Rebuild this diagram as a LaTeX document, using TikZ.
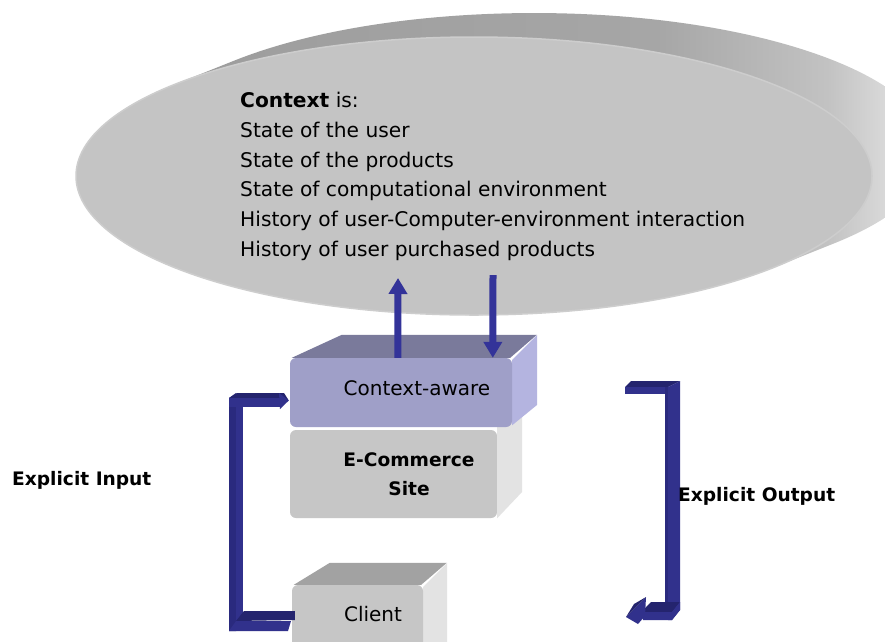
\documentclass[tikz,border=0pt]{standalone}
\usepackage{fontspec}
\setmainfont{DejaVu Sans}
\usetikzlibrary{arrows.meta,calc,shapes.geometric}

% palette
\definecolor{cloudfront}{HTML}{C4C4C4}
\definecolor{cloudrim}{HTML}{CDCDCD}
\definecolor{cloudsideA}{HTML}{9A9A9A}
\definecolor{cloudsideB}{HTML}{A6A6A6}
\definecolor{cloudsideC}{HTML}{C2C2C2}
\definecolor{cloudsideD}{HTML}{EEEEEE}
\definecolor{ctxfront}{HTML}{9F9FC8}
\definecolor{ctxtop}{HTML}{7A7A9B}
\definecolor{ctxside}{HTML}{B4B4E0}
\definecolor{grayfront}{HTML}{C6C6C6}
\definecolor{graytop}{HTML}{A2A2A2}
\definecolor{grayside}{HTML}{E3E3E3}
\definecolor{flowblue}{HTML}{333399}
\definecolor{barmain}{HTML}{31318C}
\definecolor{bardark}{HTML}{24246E}
\definecolor{barside}{HTML}{2A2A7E}

% the path's bounding box spans 25bp..75bp of this shading
\pgfdeclarehorizontalshading{cloudside}{100bp}{color(0bp)=(cloudsideA); color(25bp)=(cloudsideA); color(58bp)=(cloudsideB); color(67bp)=(cloudsideC); color(73bp)=(cloudsideD); color(100bp)=(cloudsideD)}

\tikzset{
  boxface/.style={rectangle, rounded corners=6pt, inner sep=0pt},
  boxlabel/.style={font=\fontsize{20}{24}\selectfont, inner sep=0pt},
  boldlabel/.style={font=\fontsize{18.6}{29}\selectfont\bfseries, inner sep=0pt, align=center},
  flow/.style={draw=flowblue, line width=7pt, -{Triangle[width=18pt,length=16pt]}},
}

\begin{document}
\begin{tikzpicture}[x=1pt,y=1pt]
\useasboundingbox (0,0) rectangle (885,-641);
\fill[white] (0,0) rectangle (885,-641);

% --- extruded context disc -------------------------------------------
\shade[shading=cloudside] (834,-243.4)
  arc[start angle=-41.1, end angle=138.9, x radius=398pt, y radius=139pt]
  -- ++(-60,-24)
  arc[start angle=138.9, end angle=318.9, x radius=398pt, y radius=139pt]
  -- cycle;
\node[ellipse, minimum width=796pt, minimum height=278pt, inner sep=0pt,
      fill=cloudfront, draw=cloudrim, line width=1.5pt] (cloud) at (474,-176) {};

\node[anchor=north west, align=left, inner sep=0pt,
      font=\fontsize{20.2}{29.8}\selectfont] (ctxlist) at (240,-92)
  {\textbf{Context} is:\\
   State of the user\\
   State of the products\\
   State of computational environment\\
   History of user-Computer-environment interaction\\
   History of user purchased products};

% --- E-Commerce block ------------------------------------------------
\node[boxface, fill=grayfront, minimum width=207pt, minimum height=88pt] (eco) at (393.5,-474) {};
\fill[grayside] (eco.north east) ++(0,4) -- ++(25,23) -- ++(0,-89) -- (eco.south east) -- cycle;
\node[boldlabel] (ecolabel) at (409,-474) {E-Commerce\\Site};

% --- Context-aware block ---------------------------------------------
\node[boxface, minimum width=222pt, minimum height=69pt] (ctx) at (401,-392.5) {};
\fill[ctxtop] (ctx.north west) ++(2,0) -- ++(50,23) -- ++(195,0) -- ($(ctx.north east)+(-2,0)$) -- cycle;
\fill[ctxside] ($(ctx.north east)+(0,-2)$) -- ++(25,25) -- ++(0,-70) -- ($(ctx.south east)+(0,2)$) -- cycle;
\node[boxface, fill=ctxfront, minimum width=222pt, minimum height=69pt] at (ctx.center) {};
\node[boxlabel] (ctxlabel) at (417,-388) {Context-aware};

% --- Client block ----------------------------------------------------
\node[boxface, minimum width=131pt, minimum height=72pt] (client) at (357.5,-621) {};
\fill[graytop] (client.north west) ++(2,0) -- ++(36,22) -- ++(117,0) -- ($(client.north east)+(-2,0)$) -- cycle;
\fill[grayside] ($(client.north east)+(0,-2)$) -- ++(24,24) -- ++(0,-100) -- ++(-24,0) -- cycle;
\node[boxface, fill=grayfront, minimum width=131pt, minimum height=72pt] at (client.center) {};
\node[boxlabel] (clientlabel) at (373,-614) {Client};

% --- flows between the block and the disc ----------------------------
\coordinate (upTip) at (398,-278);
\coordinate (downTail) at (493,-275);
\draw[flow] ($(ctx.north west)+(108,0)$) -- (upTip);
\draw[flow] (downTail) -- ($(ctx.north west)+(203,0)$);

% --- explicit input bracket (client -> context-aware) ----------------
\coordinate (inEnd) at ($(ctx.west)+(-1,-8)$);
\coordinate (inStart) at ($(client.west)+(3,1)$);
% side strip and vertical bar
\fill[barside] (229,-398) -- (236,-393) -- (236,-631) -- (229,-631) -- cycle;
\fill[barmain] (236,-400) rectangle (243,-631);
% top arm
\fill[bardark] (229,-398) -- (237,-393) -- (284,-393) -- (inEnd) -- (281,-400) -- cycle;
\fill[barmain] (229,-398) -- (281,-398) -- (281,-407) -- (229,-407) -- cycle;
\fill[barmain] (279,-393) -- (inEnd) -- (280,-409) -- cycle;
% bottom arm
\fill[bardark] (236,-621) -- (244,-611) -- (295,-611) -- (inStart) -- cycle;
\fill[barmain] (236,-621) -- (291,-621) -- (288,-631) -- (229,-631) -- cycle;

% --- explicit output bracket (context-aware -> client) ---------------
\coordinate (outStart) at (625,-387);
\coordinate (outTip) at (626,-617);
% top arm
\fill[bardark] (outStart) -- (631,-381) -- (680,-381) -- (668,-387) -- cycle;
\fill[barmain] (outStart) -- (668,-387) -- (668,-394) -- (625,-394) -- cycle;
% vertical bar
\fill[barside] (665,-387) rectangle (668,-620);
\fill[barmain] (668,-387) -- (680,-381) -- (680,-610) -- (672,-620) -- (668,-620) -- cycle;
% bottom arm with head
\fill[bardark] (641,-612) -- (651,-602) -- (680,-602) -- (672,-612) -- cycle;
\fill[barmain] (641,-612) -- (672,-612) -- (680,-602) -- (680,-610) -- (672,-620) -- (643,-620) -- cycle;
\fill[barmain] (646,-597) -- (outTip) -- (638,-624) -- (645,-616) -- cycle;
\fill[bardark] (646,-597) -- (outTip) -- (634,-604) -- cycle;

% --- side labels -----------------------------------------------------
\node[boldlabel, anchor=west] (inlabel) at (12,-480) {Explicit Input};
\node[boldlabel, anchor=west] (outlabel) at (678,-496) {Explicit Output};
\end{tikzpicture}
\end{document}
